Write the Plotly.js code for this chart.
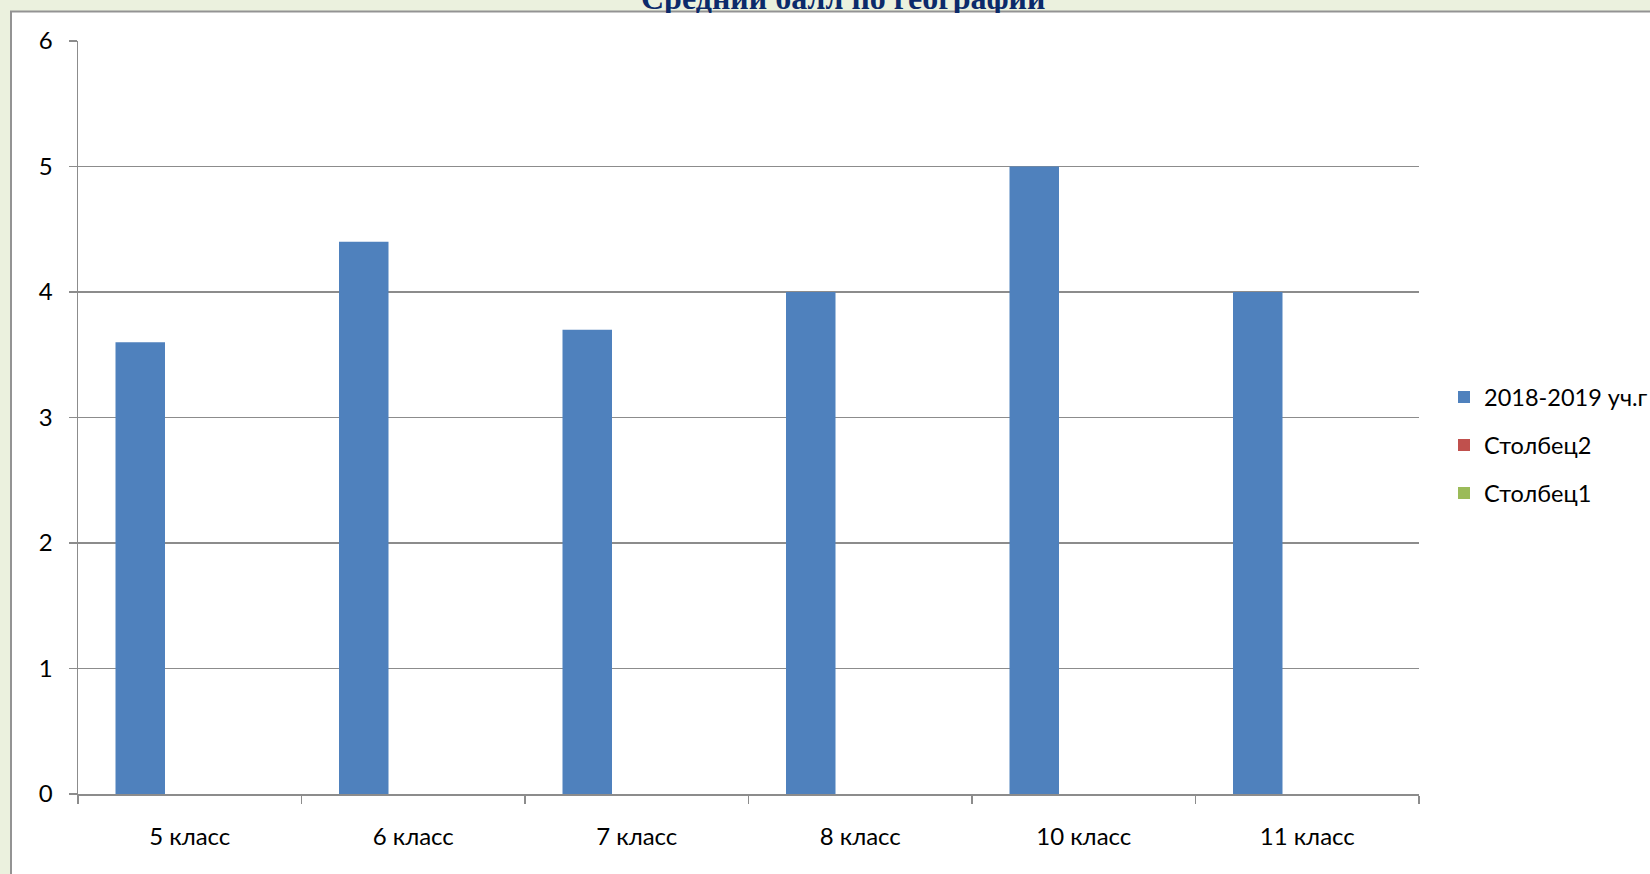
<!DOCTYPE html>
<html>
<head>
<meta charset="utf-8">
<script src="https://cdn.plot.ly/plotly-3.0.1.min.js"></script>
<style>
  html, body { margin: 0; padding: 0; background: #EBF1DE; }
  #chart { width: 1650px; height: 874px; }
</style>
</head>
<body>
<div id="chart"></div>
<script>
const categories = ['5 класс', '6 класс', '7 класс', '8 класс', '10 класс', '11 класс'];
const seriesNames = ['2018-2019 уч.г', 'Столбец2', 'Столбец1'];
const series2018 = [3.6, 4.4, 3.7, 4.0, 5.0, 4.0];
const seriesCol2 = [null, null, null, null, null, null];
const seriesCol1 = [null, null, null, null, null, null];
const chartTitle = 'Средний балл по географии';

const colors = ['#4F81BD', '#C0504D', '#9BBB59'];
const allSeries = [series2018, seriesCol2, seriesCol1];

const traces = allSeries.map((vals, i) => ({
  type: 'bar',
  name: seriesNames[i],
  x: categories,
  y: vals,
  marker: { color: colors[i] },
  legendgroup: 'g' + i,
  hoverinfo: 'skip'
}));

const ML = 78, MR = 231, MT = 40.5, MB = 80;
const W = 1650, H = 874;
const PW = W - ML - MR;
const gridGrey = '#8C8C8C';
const tickFont = { family: 'Lato, sans-serif', size: 24, color: '#000000' };

const layout = {
  width: W,
  height: H,
  margin: { l: ML, r: MR, t: MT, b: MB, pad: 0, autoexpand: false },
  paper_bgcolor: '#EBF1DE',
  plot_bgcolor: '#FFFFFF',
  barmode: 'group',
  bargap: 0.3356,
  bargroupgap: 0,
  showlegend: true,
  legend: {
    x: (1444 - ML) / PW,
    xanchor: 'left',
    y: (794 - 445) / (794 - MT),
    yanchor: 'middle',
    font: { family: 'Lato, sans-serif', size: 23.5, color: '#000000' },
    bgcolor: 'rgba(0,0,0,0)',
    borderwidth: 0,
    traceorder: 'grouped',
    tracegroupgap: 14.5
  },
  xaxis: {
    type: 'category',
    showline: true,
    linecolor: gridGrey,
    linewidth: 1.5,
    ticks: 'outside',
    tickson: 'boundaries',
    ticklen: 8,
    tickwidth: 1.5,
    tickcolor: gridGrey,
    tickfont: tickFont,
    ticklabelstandoff: 21,
    showgrid: false,
    zeroline: false,
    fixedrange: true
  },
  yaxis: {
    range: [0, 6],
    dtick: 1,
    tick0: 0,
    showline: true,
    linecolor: gridGrey,
    linewidth: 1.5,
    ticks: 'outside',
    ticklen: 8,
    tickwidth: 1.5,
    tickcolor: gridGrey,
    tickfont: tickFont,
    ticklabelstandoff: 11,
    showgrid: true,
    gridcolor: gridGrey,
    gridwidth: 1.5,
    zeroline: false,
    fixedrange: true
  },
  shapes: [{
    type: 'rect',
    layer: 'below',
    xref: 'paper', yref: 'paper',
    xsizemode: 'pixel', ysizemode: 'pixel',
    xanchor: 0, yanchor: 1,
    x0: 11 - ML, x1: 2000,
    y0: -2000, y1: MT - 11,
    fillcolor: '#FFFFFF',
    line: { color: '#939393', width: 2 }
  }],
  annotations: [
    {
      text: '<b>' + chartTitle + '</b>',
      xref: 'paper', yref: 'paper',
      x: (842.5 - ML) / PW, y: 1,
      xanchor: 'center', yanchor: 'bottom',
      yshift: MT - 18,
      showarrow: false,
      font: { family: '"Liberation Serif", "Times New Roman", serif', size: 32, color: '#0B2A6A' }
    },
    {
      text: ' ',
      xref: 'paper', yref: 'paper',
      x: (842.5 - ML) / PW, y: 1,
      xanchor: 'center', yanchor: 'top',
      yshift: MT - 12,
      width: 480, height: 24,
      bgcolor: '#FFFFFF',
      borderpad: 0, borderwidth: 0,
      showarrow: false
    }
  ]
};

Plotly.newPlot('chart', traces, layout, { displayModeBar: false, staticPlot: true });
</script>
</body>
</html>
